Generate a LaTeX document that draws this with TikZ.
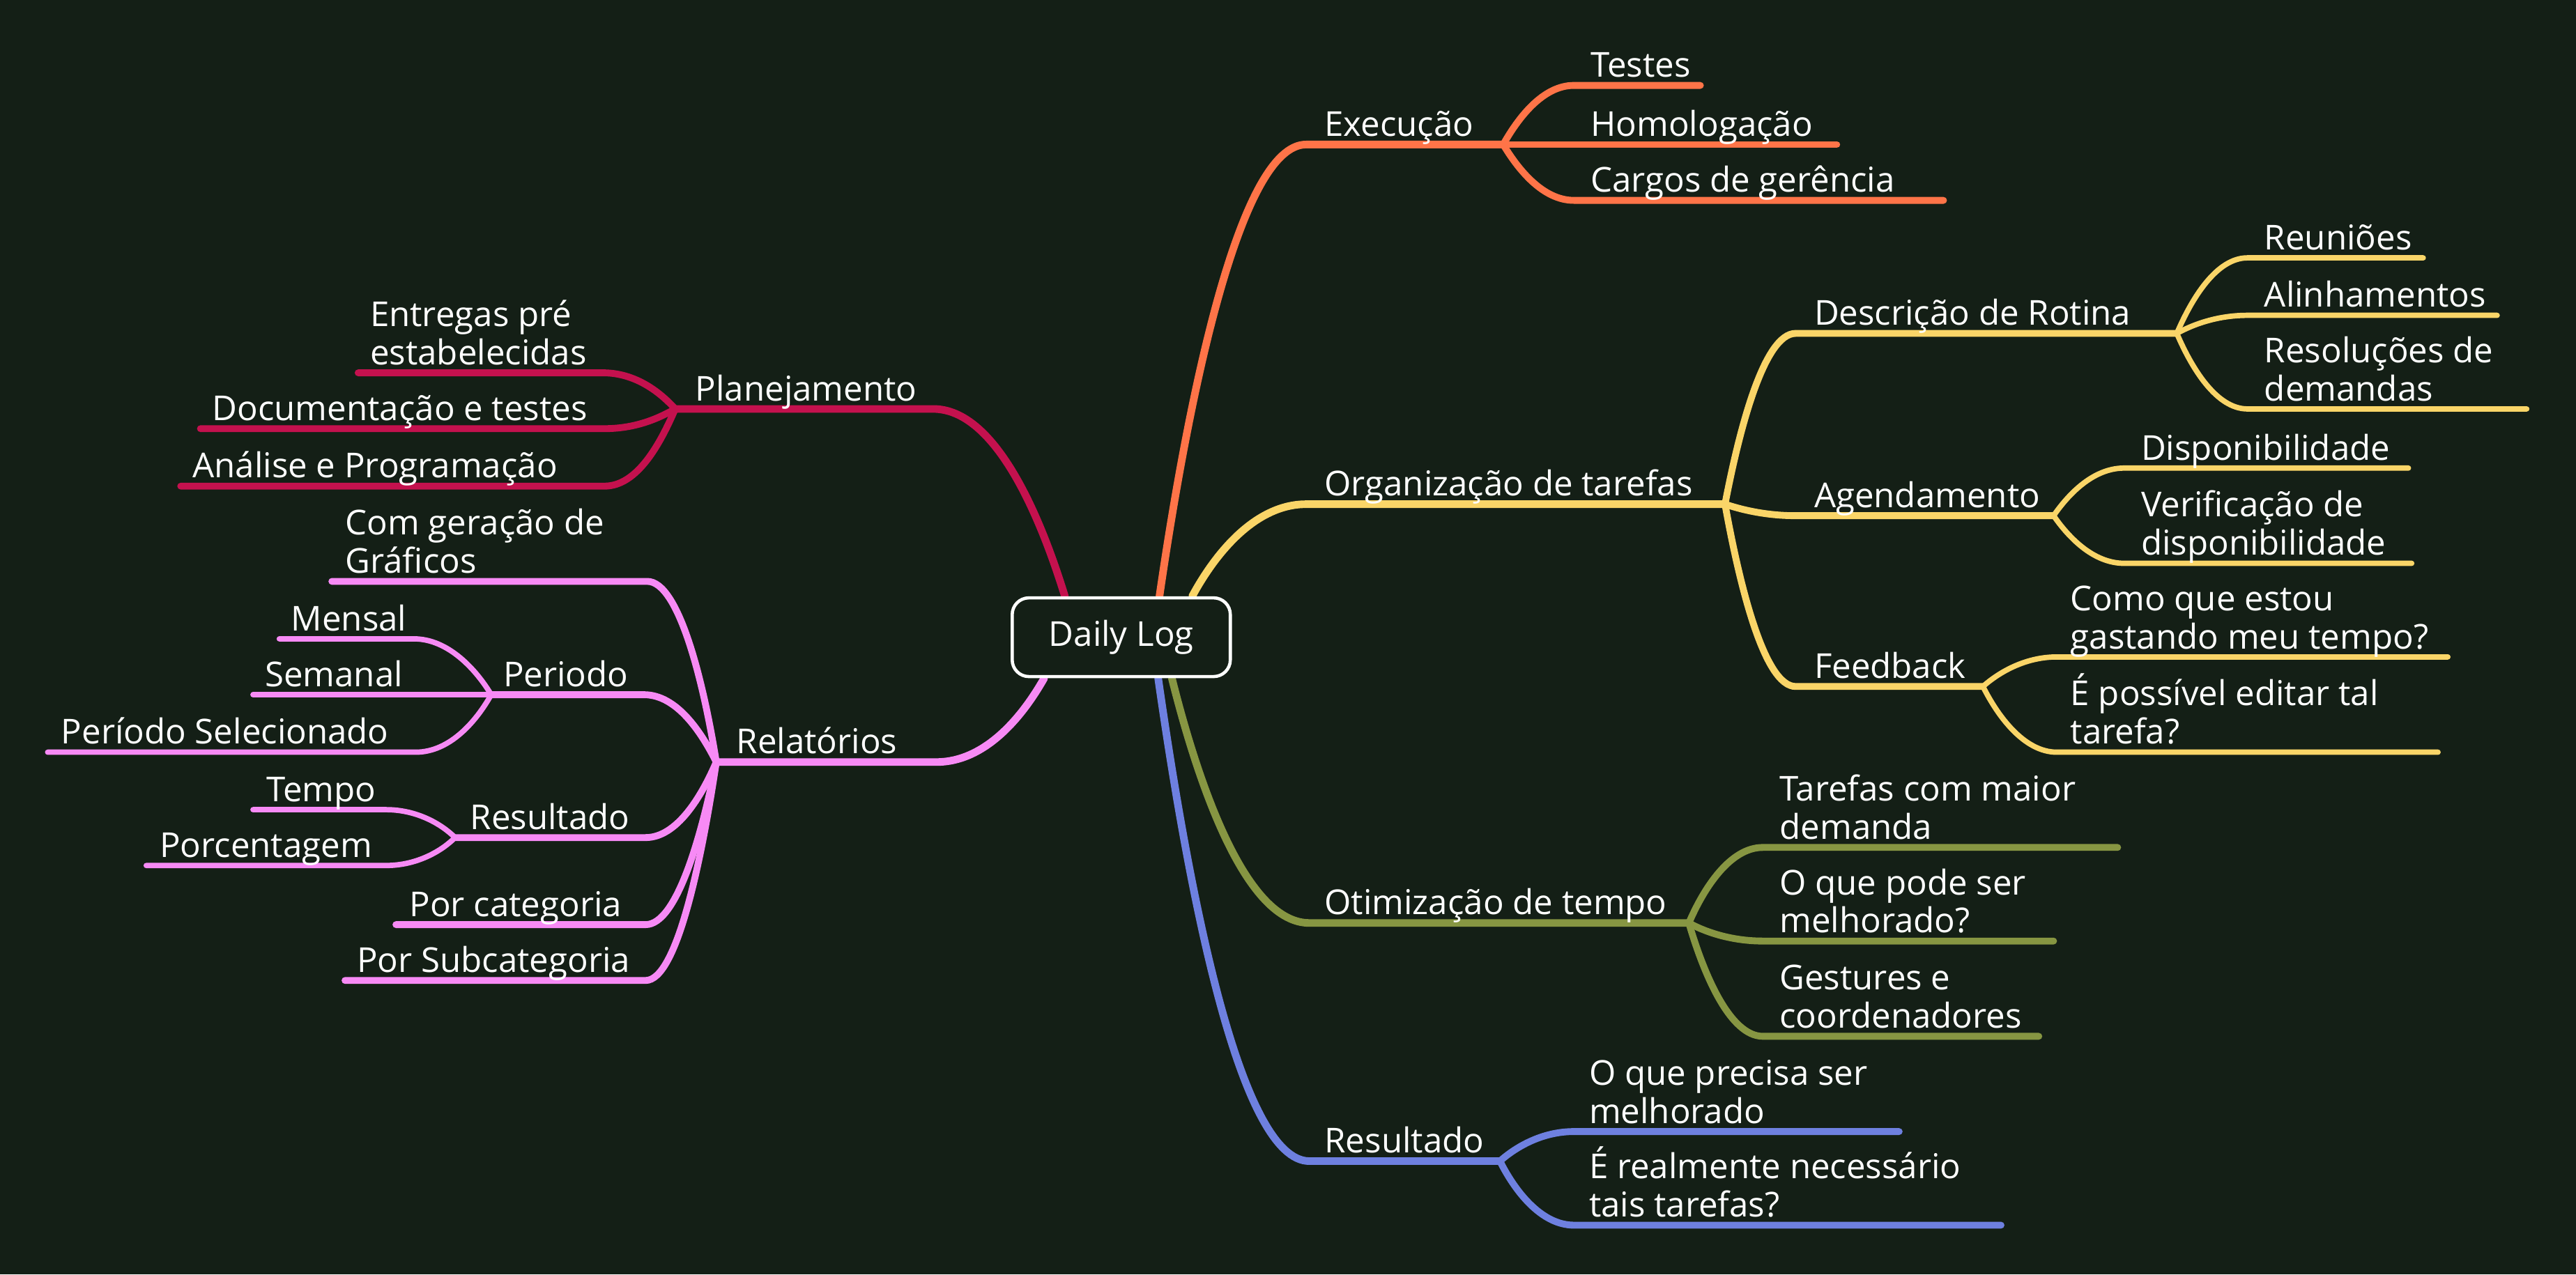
\documentclass[tikz,border=0pt]{standalone}
\usepackage{fontspec}
\setmainfont{Open Sans}
\usetikzlibrary{backgrounds}
\definecolor{board}{RGB}{20,31,22}
\definecolor{orng}{RGB}{255,116,72}
\definecolor{yllw}{RGB}{250,213,104}
\definecolor{olve}{RGB}{135,150,66}
\definecolor{blu}{RGB}{110,128,224}
\definecolor{crim}{RGB}{196,17,78}
\definecolor{pnk}{RGB}{247,138,245}
\begin{document}
\begin{tikzpicture}[x=0.02357cm,y=-0.02357cm,
  lbl/.style={anchor=base west,inner sep=0pt,text=white,align=left,
    font=\fontsize{14}{15.6}\selectfont},
  rootbox/.style={draw=white,line width=1.3pt,fill=board,rounded corners=0.24cm,
    minimum width=3.13cm,minimum height=1.13cm,text=white,
    font=\fontsize{14}{16}\selectfont},
  trunk/.style={line width=3.1pt,line cap=round},
  twig/.style={line width=2.8pt,line cap=round},
  leaf/.style={line width=2.2pt,line cap=round}]
% Board
\begin{scope}[on background layer]
\fill[board] (0,0) rectangle (1568,776);
\end{scope}
% Central topic
\node[rootbox] (daily) at (682.5,388) {Daily Log};

% ---- Right side ----
% Execucao
\coordinate (exe-a) at (795,88);   \coordinate (exe-b) at (915,88);
\coordinate (tes-a) at (958,52);   \coordinate (tes-b) at (1035,52);
\coordinate (hom-a) at (958,88);   \coordinate (hom-b) at (1118,88);
\coordinate (car-a) at (958,122);  \coordinate (car-b) at (1183,122);
\node[lbl] (exe) at (806,83) {Execução};
\node[lbl] (tes) at (968,47) {Testes};
\node[lbl] (hom) at (968,83) {Homologação};
\node[lbl] (car) at (968,117) {Cargos de gerência};
\begin{scope}[on background layer]\begin{scope}[draw=orng]
\draw[trunk] (daily.47) .. controls +(18,-124) and +(-40,0) .. (exe-a) -- (exe-b);
\draw[twig] (exe-b) .. controls +(9,-16) and +(-19,0) .. (tes-a) -- (tes-b);
\draw[twig] (exe-b) -- (hom-a) -- (hom-b);
\draw[twig] (exe-b) .. controls +(9,15) and +(-19,0) .. (car-a) -- (car-b);
\end{scope}\end{scope}

% Organizacao de tarefas
\coordinate (org-a) at (795,307);  \coordinate (org-b) at (1050,307);
\coordinate (des-a) at (1093,203); \coordinate (des-b) at (1325,203);
\coordinate (reu-a) at (1368,157); \coordinate (reu-b) at (1475,157);
\coordinate (ali-a) at (1368,192); \coordinate (ali-b) at (1520,192);
\coordinate (rsd-a) at (1368,249); \coordinate (rsd-b) at (1538,249);
\coordinate (age-a) at (1093,314); \coordinate (age-b) at (1250,314);
\coordinate (dis-a) at (1293,285); \coordinate (dis-b) at (1466,285);
\coordinate (ver-a) at (1293,343); \coordinate (ver-b) at (1468,343);
\coordinate (fee-a) at (1093,418); \coordinate (fee-b) at (1207,418);
\coordinate (com-a) at (1252,400); \coordinate (com-b) at (1490,400);
\coordinate (edi-a) at (1252,458); \coordinate (edi-b) at (1484,458);
\node[lbl] (org) at (806,302) {Organização de tarefas};
\node[lbl] (des) at (1104,198) {Descrição de Rotina};
\node[lbl] (reu) at (1378,152) {Reuniões};
\node[lbl] (ali) at (1378,187) {Alinhamentos};
\node[lbl] (rsd) at (1378,244) {Resoluções de\\demandas};
\node[lbl] (age) at (1104,309) {Agendamento};
\node[lbl] (dis) at (1303,280) {Disponibilidade};
\node[lbl] (ver) at (1303,338) {Verificação de\\disponibilidade};
\node[lbl] (fee) at (1104,413) {Feedback};
\node[lbl] (com) at (1260,395) {Como que estou\\gastando meu tempo?};
\node[lbl] (edi) at (1260,453) {É possível editar tal\\tarefa?};
\begin{scope}[on background layer]\begin{scope}[draw=yllw]
\draw[trunk] (daily.30) .. controls +(14,-26) and +(-31,0) .. (org-a) -- (org-b);
\draw[twig] (org-b) .. controls +(9,-47) and +(-19,0) .. (des-a) -- (des-b);
\draw[twig] (org-b) .. controls +(9,3) and +(-19,0) .. (age-a) -- (age-b);
\draw[twig] (org-b) .. controls +(9,50) and +(-19,0) .. (fee-a) -- (fee-b);
\draw[leaf] (des-b) .. controls +(9,-21) and +(-19,0) .. (reu-a) -- (reu-b);
\draw[leaf] (des-b) .. controls +(9,-5) and +(-19,0) .. (ali-a) -- (ali-b);
\draw[leaf] (des-b) .. controls +(9,21) and +(-19,0) .. (rsd-a) -- (rsd-b);
\draw[leaf] (age-b) .. controls +(9,-13) and +(-19,0) .. (dis-a) -- (dis-b);
\draw[leaf] (age-b) .. controls +(9,13) and +(-19,0) .. (ver-a) -- (ver-b);
\draw[leaf] (fee-b) .. controls +(9,-8) and +(-20,0) .. (com-a) -- (com-b);
\draw[leaf] (fee-b) .. controls +(9,18) and +(-20,0) .. (edi-a) -- (edi-b);
\end{scope}\end{scope}

% Otimizacao de tempo
\coordinate (oti-a) at (797,562);  \coordinate (oti-b) at (1028,562);
\coordinate (tar-a) at (1073,516); \coordinate (tar-b) at (1289,516);
\coordinate (mel-a) at (1073,573); \coordinate (mel-b) at (1250,573);
\coordinate (ges-a) at (1073,631); \coordinate (ges-b) at (1241,631);
\node[lbl] (oti) at (806,557) {Otimização de tempo};
\node[lbl] (tar) at (1083,511) {Tarefas com maior\\demanda};
\node[lbl] (mel) at (1083,568) {O que pode ser\\melhorado?};
\node[lbl] (ges) at (1083,626) {Gestures e\\coordenadores};
\begin{scope}[on background layer]\begin{scope}[draw=olve]
\draw[trunk] (daily.-39) .. controls +(17,68) and +(-38,0) .. (oti-a) -- (oti-b);
\draw[twig] (oti-b) .. controls +(9,-21) and +(-20,0) .. (tar-a) -- (tar-b);
\draw[twig] (oti-b) .. controls +(9,5) and +(-20,0) .. (mel-a) -- (mel-b);
\draw[twig] (oti-b) .. controls +(9,31) and +(-20,0) .. (ges-a) -- (ges-b);
\end{scope}\end{scope}

% Resultado
\coordinate (res-a) at (797,707);  \coordinate (res-b) at (913,707);
\coordinate (pre-a) at (958,689);  \coordinate (pre-b) at (1156,689);
\coordinate (nec-a) at (958,746);  \coordinate (nec-b) at (1218,746);
\node[lbl] (res) at (806,702) {Resultado};
\node[lbl] (pre) at (967,684) {O que precisa ser\\melhorado};
\node[lbl] (nec) at (967,741) {É realmente necessário\\tais tarefas?};
\begin{scope}[on background layer]\begin{scope}[draw=blu]
\draw[trunk] (daily.-48) .. controls +(19,133) and +(-42,0) .. (res-a) -- (res-b);
\draw[twig] (res-b) .. controls +(9,-8) and +(-20,0) .. (pre-a) -- (pre-b);
\draw[twig] (res-b) .. controls +(9,18) and +(-20,0) .. (nec-a) -- (nec-b);
\end{scope}\end{scope}

% ---- Left side ----
% Planejamento
\coordinate (pla-a) at (411,249);  \coordinate (pla-b) at (568,249);
\coordinate (ent-a) at (218,227);  \coordinate (ent-b) at (367,227);
\coordinate (doc-a) at (122,261);  \coordinate (doc-b) at (368,261);
\coordinate (ana-a) at (110,296);  \coordinate (ana-b) at (368,296);
\node[lbl] (pla) at (423,244) {Planejamento};
\node[lbl] (ent) at (225,222) {Entregas pré\\estabelecidas};
\node[lbl] (doc) at (129,256) {Documentação e testes};
\node[lbl] (ana) at (117,291) {Análise e Programação};
\begin{scope}[on background layer]\begin{scope}[draw=crim]
\draw[trunk] (daily.144) .. controls +(-16,-52) and +(37,0) .. (pla-b) -- (pla-a);
\draw[twig] (pla-a) .. controls +(-9,-10) and +(20,0) .. (ent-b) -- (ent-a);
\draw[twig] (pla-a) .. controls +(-9,5) and +(20,0) .. (doc-b) -- (doc-a);
\draw[twig] (pla-a) .. controls +(-9,21) and +(20,0) .. (ana-b) -- (ana-a);
\end{scope}\end{scope}

% Relatorios
\coordinate (rel-a) at (436,464);  \coordinate (rel-b) at (570,464);
\coordinate (gra-a) at (202,354);  \coordinate (gra-b) at (394,354);
\coordinate (per-a) at (299,423);  \coordinate (per-b) at (392,423);
\coordinate (men-a) at (170,389);  \coordinate (men-b) at (252,389);
\coordinate (sem-a) at (154,423);
\coordinate (sel-a) at (29,458);   \coordinate (sel-b) at (253,458);
\coordinate (rst-a) at (277,510);  \coordinate (rst-b) at (393,510);
\coordinate (tem-a) at (154,493);  \coordinate (tem-b) at (235,493);
\coordinate (por-a) at (89,527);   \coordinate (por-b) at (235,527);
\coordinate (cat-a) at (241,563);  \coordinate (cat-b) at (393,563);
\coordinate (sub-a) at (210,597);  \coordinate (sub-b) at (393,597);
\node[lbl] (rel) at (448,459) {Relatórios};
\node[lbl] (gra) at (210,349) {Com geração de\\Gráficos};
\node[lbl] (per) at (306,418) {Periodo};
\node[lbl] (men) at (177,384) {Mensal};
\node[lbl] (sem) at (161,418) {Semanal};
\node[lbl] (sel) at (37,453) {Período Selecionado};
\node[lbl] (rst) at (286,505) {Resultado};
\node[lbl] (tem) at (162,488) {Tempo};
\node[lbl] (por) at (97,522) {Porcentagem};
\node[lbl] (cat) at (249,558) {Por categoria};
\node[lbl] (sub) at (217,592) {Por Subcategoria};
\begin{scope}[on background layer]\begin{scope}[draw=pnk]
\draw[trunk] (daily.208) .. controls +(-13,23) and +(30,0) .. (rel-b) -- (rel-a);
\draw[twig] (rel-a) .. controls +(-8,-50) and +(19,0) .. (gra-b) -- (gra-a);
\draw[twig] (rel-a) .. controls +(-9,-18) and +(20,0) .. (per-b) -- (per-a);
\draw[twig] (rel-a) .. controls +(-9,21) and +(19,0) .. (rst-b) -- (rst-a);
\draw[twig] (rel-a) .. controls +(-9,45) and +(19,0) .. (cat-b) -- (cat-a);
\draw[twig] (rel-a) .. controls +(-9,60) and +(19,0) .. (sub-b) -- (sub-a);
\draw[leaf] (per-a) .. controls +(-9,-15) and +(21,0) .. (men-b) -- (men-a);
\draw[leaf] (per-a) -- (sem-a);
\draw[leaf] (per-a) .. controls +(-9,16) and +(21,0) .. (sel-b) -- (sel-a);
\draw[leaf] (rst-a) .. controls +(-8,-8) and +(19,0) .. (tem-b) -- (tem-a);
\draw[leaf] (rst-a) .. controls +(-8,8) and +(19,0) .. (por-b) -- (por-a);
\end{scope}\end{scope}
\end{tikzpicture}
\end{document}
